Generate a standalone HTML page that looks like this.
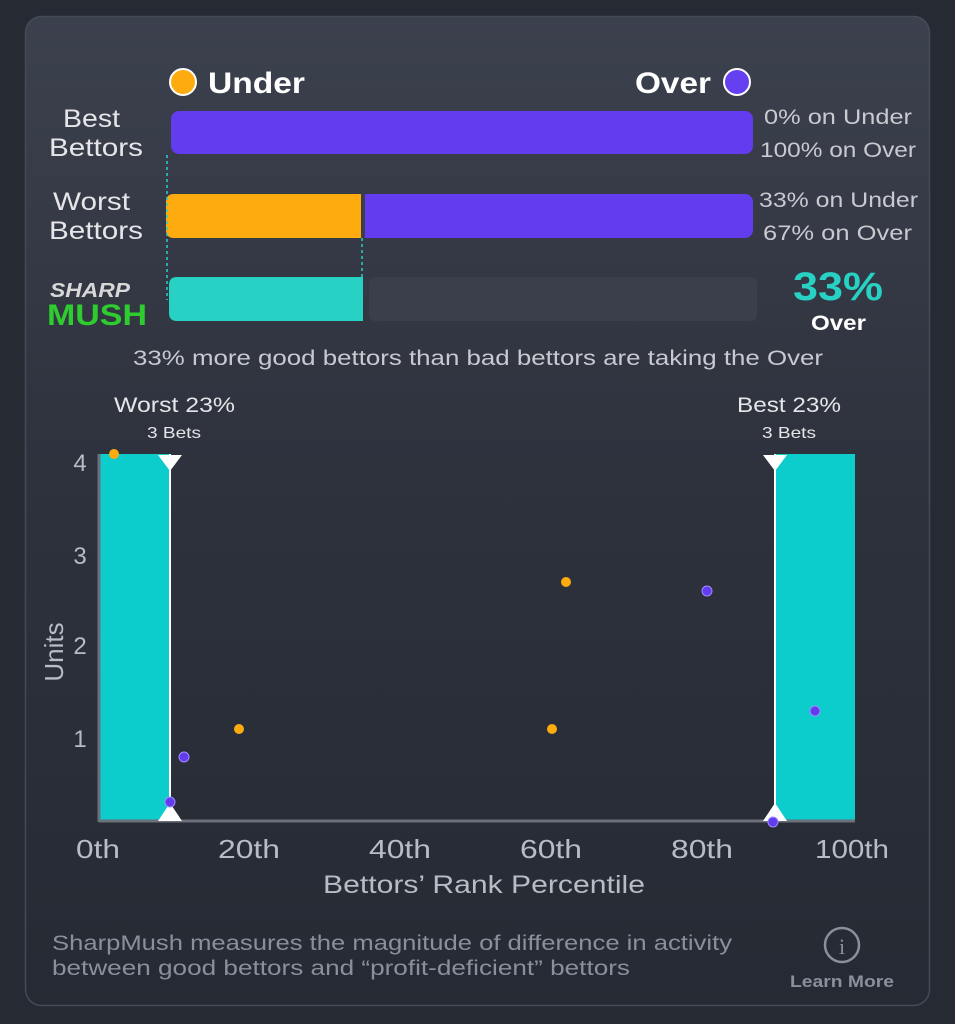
<!DOCTYPE html>
<html><head><style>
html,body{margin:0;padding:0;background:#262a33;}
svg{display:block;font-family:"Liberation Sans",sans-serif;}
</style></head><body>
<svg width="955" height="1024" viewBox="0 0 955 1024">
<defs>
<linearGradient id="cg" x1="0" y1="0" x2="0" y2="1">
<stop offset="0" stop-color="#3c414e"/><stop offset="0.45" stop-color="#2e323d"/><stop offset="1" stop-color="#262a33"/>
</linearGradient>
</defs>
<rect x="0" y="0" width="955" height="1024" fill="#262a33"/>
<rect x="25.5" y="16.5" width="904" height="989" rx="16" fill="url(#cg)" stroke="#444a57" stroke-width="1.5"/>
<circle cx="183" cy="82" r="13" fill="#fdab0f" stroke="#fff" stroke-width="2"/>
<text x="208" y="93" font-size="30" font-weight="bold" fill="#fff" textLength="97" lengthAdjust="spacingAndGlyphs">Under</text>
<text x="635" y="93" font-size="30" font-weight="bold" fill="#fff" textLength="76" lengthAdjust="spacingAndGlyphs">Over</text>
<circle cx="737" cy="82" r="13" fill="#6540f0" stroke="#fff" stroke-width="2"/>
<g fill="#e6e6e9" font-size="25">
<text x="63" y="127" textLength="57" lengthAdjust="spacingAndGlyphs">Best</text><text x="49" y="156" textLength="94" lengthAdjust="spacingAndGlyphs">Bettors</text>
<text x="53" y="210" textLength="77" lengthAdjust="spacingAndGlyphs">Worst</text><text x="49" y="239" textLength="94" lengthAdjust="spacingAndGlyphs">Bettors</text>
</g>
<g fill="#c8cad0" font-size="21">
<text x="764" y="124" textLength="148" lengthAdjust="spacingAndGlyphs">0% on Under</text><text x="760" y="157" textLength="156" lengthAdjust="spacingAndGlyphs">100% on Over</text>
<text x="759" y="207" textLength="159" lengthAdjust="spacingAndGlyphs">33% on Under</text><text x="763" y="240" textLength="149" lengthAdjust="spacingAndGlyphs">67% on Over</text>
</g>
<rect x="171" y="111" width="582" height="43" rx="8" fill="#643cf0"/>
<rect x="166" y="194" width="587" height="44" rx="8" fill="#643cf0"/>
<path d="M174 194 H361 V238 H174 Q166 238 166 230 V202 Q166 194 174 194Z" fill="#fdab0f"/>
<rect x="361" y="194" width="4" height="44" fill="#3a3f4b"/>
<rect x="369" y="277" width="388" height="44" rx="6" fill="#3b3f4b"/>
<path d="M177 277 H363 V321 H177 Q169 321 169 313 V285 Q169 277 177 277Z" fill="#27d1c3"/>
<line x1="167" y1="155" x2="167" y2="300" stroke="#27d1c3" stroke-width="1.5" stroke-dasharray="3,3"/>
<line x1="362" y1="238" x2="362" y2="277" stroke="#27d1c3" stroke-width="1.5" stroke-dasharray="3,3"/>
<text x="50" y="297" font-size="20" font-weight="bold" font-style="italic" fill="#d8d8d8" textLength="80" lengthAdjust="spacingAndGlyphs">SHARP</text>
<text x="47" y="325" font-size="30" font-weight="bold" fill="#2ecc2e" textLength="100" lengthAdjust="spacingAndGlyphs">MUSH</text>
<text x="793" y="300" font-size="40" font-weight="bold" fill="#27d1c3" textLength="90" lengthAdjust="spacingAndGlyphs">33%</text>
<text x="811" y="330" font-size="21" font-weight="bold" fill="#fff" textLength="55" lengthAdjust="spacingAndGlyphs">Over</text>
<text x="133" y="365" font-size="21" fill="#c8cad0" textLength="690" lengthAdjust="spacingAndGlyphs">33% more good bettors than bad bettors are taking the Over</text>
<text x="114" y="412" font-size="21" fill="#e6e6e9" textLength="121" lengthAdjust="spacingAndGlyphs">Worst 23%</text>
<text x="147" y="438" font-size="16" fill="#e6e6e9" textLength="54" lengthAdjust="spacingAndGlyphs">3 Bets</text>
<text x="737" y="412" font-size="21" fill="#e6e6e9" textLength="104" lengthAdjust="spacingAndGlyphs">Best 23%</text>
<text x="762" y="438" font-size="16" fill="#e6e6e9" textLength="54" lengthAdjust="spacingAndGlyphs">3 Bets</text>
<rect x="100" y="454" width="70" height="367" fill="#0dcccc"/>
<rect x="775" y="454" width="80" height="367" fill="#0dcccc"/>
<line x1="99" y1="454" x2="99" y2="822" stroke="#6b707b" stroke-width="3"/>
<line x1="99" y1="821" x2="855" y2="821" stroke="#6b707b" stroke-width="3"/>
<line x1="170" y1="454" x2="170" y2="821" stroke="#fff" stroke-width="2"/>
<line x1="775" y1="454" x2="775" y2="821" stroke="#fff" stroke-width="2"/>
<path d="M158 455 H182 L170 471Z M763 455 H787 L775 471Z M158 821 H182 L170 803Z M763 821 H787 L775 803Z" fill="#fff"/>
<g font-size="24" fill="#b8bcc4" text-anchor="middle">
<text x="80" y="471">4</text><text x="80" y="564">3</text><text x="80" y="654">2</text><text x="80" y="747">1</text>
</g>
<g font-size="26" fill="#b8bcc4">
<text x="76" y="858" textLength="44" lengthAdjust="spacingAndGlyphs">0th</text>
<text x="218" y="858" textLength="62" lengthAdjust="spacingAndGlyphs">20th</text>
<text x="369" y="858" textLength="62" lengthAdjust="spacingAndGlyphs">40th</text>
<text x="520" y="858" textLength="62" lengthAdjust="spacingAndGlyphs">60th</text>
<text x="671" y="858" textLength="62" lengthAdjust="spacingAndGlyphs">80th</text>
<text x="815" y="858" textLength="74" lengthAdjust="spacingAndGlyphs">100th</text>
</g>
<text transform="translate(63,652) rotate(-90)" font-size="26" fill="#b8bcc4" text-anchor="middle">Units</text>
<text x="323" y="893" font-size="25" fill="#b8bcc4" textLength="322" lengthAdjust="spacingAndGlyphs">Bettors’ Rank Percentile</text>
<g fill="#fdab0f"><circle cx="114" cy="454" r="5"/><circle cx="239" cy="729" r="5"/><circle cx="566" cy="582" r="5"/><circle cx="552" cy="729" r="5"/></g>
<g fill="#643cf0" stroke="#9f8cff" stroke-width="1"><circle cx="184" cy="757" r="5"/><circle cx="170" cy="802" r="5"/><circle cx="707" cy="591" r="5"/><circle cx="815" cy="711" r="5"/><circle cx="773" cy="822" r="5"/></g>
<text x="52" y="950" font-size="21" fill="#8a8f9c" textLength="680" lengthAdjust="spacingAndGlyphs">SharpMush measures the magnitude of difference in activity</text>
<text x="52" y="975" font-size="21" fill="#8a8f9c" textLength="578" lengthAdjust="spacingAndGlyphs">between good bettors and “profit-deficient” bettors</text>
<circle cx="842" cy="945" r="17" fill="none" stroke="#8a8f9c" stroke-width="2.5"/>
<text x="842" y="954" font-size="22" fill="#8a8f9c" text-anchor="middle" font-family="Liberation Serif,serif">i</text>
<text x="790" y="987" font-size="17" font-weight="bold" fill="#8a8f9c" textLength="104" lengthAdjust="spacingAndGlyphs">Learn More</text>
</svg>
</body></html>
